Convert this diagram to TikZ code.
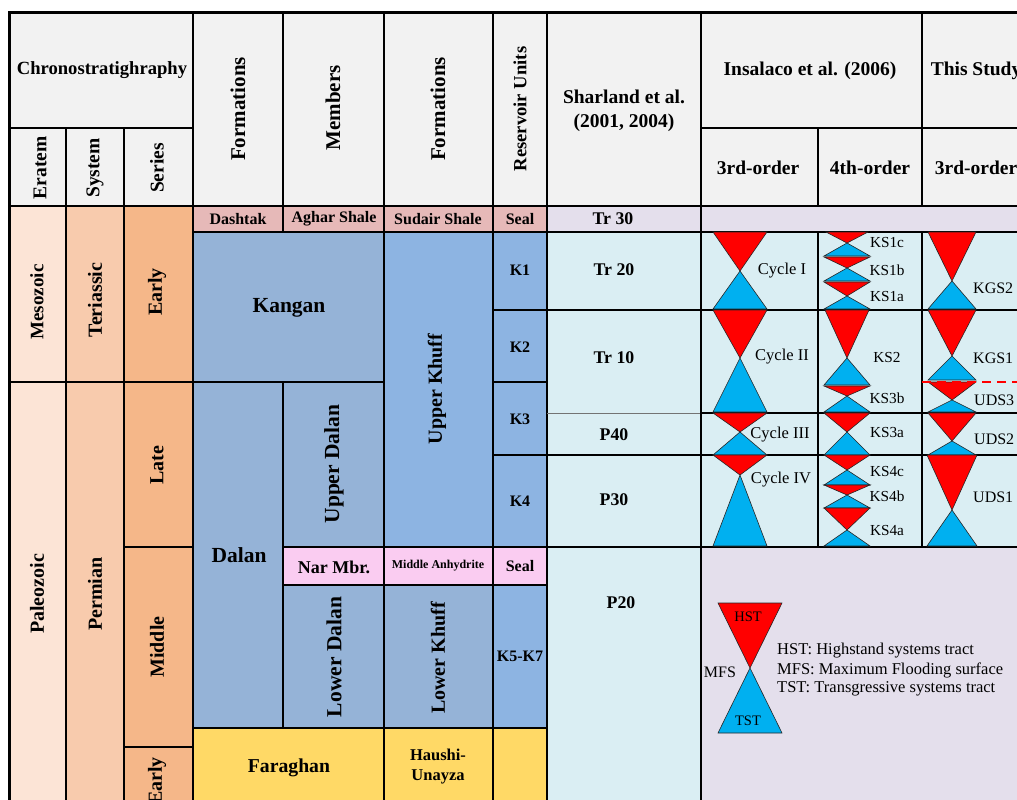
\documentclass[tikz,border=0pt]{standalone}
\usepackage{fontspec}
\setmainfont{Liberation Serif}
\definecolor{hdrbg}{HTML}{F2F2F2}
\definecolor{era}{HTML}{FCE4D6}
\definecolor{sys}{HTML}{F8CBAD}
\definecolor{ser}{HTML}{F5B789}
\definecolor{sealc}{HTML}{E6B9B8}
\definecolor{kang}{HTML}{95B3D7}
\definecolor{khuff}{HTML}{8DB4E2}
\definecolor{nar}{HTML}{FACCF1}
\definecolor{yel}{HTML}{FFD966}
\definecolor{lblue}{HTML}{DAEEF3}
\definecolor{lpurp}{HTML}{E4DFEC}
\definecolor{tred}{HTML}{FF0000}
\definecolor{tblue}{HTML}{00B0F0}
\newcommand{\fsz}[1]{\fontsize{#1}{#1}\selectfont}
\tikzset{
  cell/.style={draw=black, line width=1.2pt},
  tx/.style={inner sep=0pt, align=center},
  hdr/.style={tx, font=\fsz{19.5}\bfseries},
  chr/.style={tx, font=\fsz{20}\bfseries, rotate=90},
  sm/.style={tx, font=\fsz{16}\bfseries},
  shl/.style={tx, font=\fsz{17.8}\bfseries},
  big/.style={tx, font=\fsz{21.5}\bfseries},
  cyc/.style={tx, font=\fsz{16.5}},
  ksl/.style={tx, font=\fsz{15.3}},
  kgl/.style={tx, font=\fsz{16}, anchor=west},
  leg/.style={tx, font=\fsz{16.5}, anchor=west},
  trired/.style={fill=tred, draw=black!85, line width=0.6pt},
  triblue/.style={fill=tblue, draw=black!85, line width=0.6pt},
}
% red down triangle: cx, halfwidth, top y, apex y
\newcommand{\rdn}[4]{\path[trired] (#1-#2,#3) -- (#1+#2,#3) -- (#1,#4) -- cycle;}
% blue up triangle: cx, halfwidth, apex y, base y
\newcommand{\bup}[4]{\path[triblue] (#1,#3) -- (#1+#2,#4) -- (#1-#2,#4) -- cycle;}
\begin{document}
\begin{tikzpicture}[x=1pt,y=-1pt]
\useasboundingbox (0,0) rectangle (1017,800);
\clip (0,0) rectangle (1017,800);
\fill[white] (0,0) rectangle (1017,800);
% ---------- header cells ----------
\foreach \a/\b/\c/\d in {9/13/193/128, 9/128/66/206, 66/128/124/206, 124/128/193/206,
  193/13/283/206, 283/13/384/206, 384/13/493/206, 493/13/547/206, 547/13/701/206,
  701/13/922/128, 701/128/818/206, 818/128/922/206, 922/13/1030/128, 922/128/1030/206}
  \path[cell, fill=hdrbg] (\a,\b) rectangle (\c,\d);
% ---------- chronostratigraphy ----------
\path[cell, fill=era] (9,206) rectangle (66,382);
\path[cell, fill=era] (9,382) rectangle (66,810);
\path[cell, fill=sys] (66,206) rectangle (124,382);
\path[cell, fill=sys] (66,382) rectangle (124,810);
\path[cell, fill=ser] (124,206) rectangle (193,382);
\path[cell, fill=ser] (124,382) rectangle (193,547);
\path[cell, fill=ser] (124,547) rectangle (193,747);
\path[cell, fill=ser] (124,747) rectangle (193,810);
% ---------- top seal row ----------
\path[cell, fill=sealc] (193,206) rectangle (283,232);
\path[cell, fill=sealc] (283,206) rectangle (384,232);
\path[cell, fill=sealc] (384,206) rectangle (493,232);
\path[cell, fill=sealc] (493,206) rectangle (547,232);
\path[cell, fill=lpurp] (547,206) rectangle (701,232);
\path[cell, fill=lpurp] (701,206) rectangle (1030,232);
% ---------- formations ----------
\path[cell, fill=kang] (193,232) rectangle (384,382);
\path[cell, fill=khuff] (384,232) rectangle (493,547);
\path[cell, fill=khuff] (493,232) rectangle (547,310);
\path[cell, fill=khuff] (493,310) rectangle (547,382);
\path[cell, fill=khuff] (493,382) rectangle (547,455);
\path[cell, fill=khuff] (493,455) rectangle (547,547);
\path[cell, fill=kang] (193,382) rectangle (283,728);
\path[cell, fill=kang] (283,382) rectangle (384,547);
\path[cell, fill=nar] (283,547) rectangle (384,585);
\path[cell, fill=nar] (384,547) rectangle (493,585);
\path[cell, fill=nar] (493,547) rectangle (547,585);
\path[cell, fill=kang] (283,585) rectangle (384,728);
\path[cell, fill=kang] (384,585) rectangle (493,728);
\path[cell, fill=khuff] (493,585) rectangle (547,728);
\path[cell, fill=yel] (193,728) rectangle (384,810);
\path[cell, fill=yel] (384,728) rectangle (493,810);
\path[cell, fill=yel] (493,728) rectangle (547,810);
% ---------- Sharland ----------
\path[cell, fill=lblue] (547,232) rectangle (701,310);
\path[cell, fill=lblue] (547,310) rectangle (701,455);
\draw[black!55, line width=0.7pt] (547,413) -- (701,413);
\path[cell, fill=lblue] (547,455) rectangle (701,547);
\path[cell, fill=lblue] (547,547) rectangle (701,810);
% ---------- sequence cells ----------
\foreach \a/\c in {701/818, 818/922, 922/1030}
  \foreach \b/\d in {232/310, 310/413, 413/455, 455/547}
    \path[cell, fill=lblue] (\a,\b) rectangle (\c,\d);
\path[cell, fill=lpurp] (701,547) rectangle (1030,810);
% ---------- outer frame ----------
\draw[line width=3pt] (9,810) -- (9,13) -- (1030,13);
\draw[line width=2.6pt] (9,206) -- (1030,206);
% ---------- triangles: Insalaco 3rd-order ----------
\rdn{740}{27}{232}{271} \bup{740}{27}{271}{309}
\rdn{740}{27}{310}{358} \bup{740}{27}{358}{412}
\rdn{740}{27}{413}{432} \bup{740}{27}{432}{455}
\rdn{740}{27}{455}{475} \bup{740}{27}{475}{546}
% ---------- triangles: Insalaco 4th-order ----------
\rdn{847}{21}{232}{243} \bup{847}{23}{243}{256}
\rdn{847}{23}{257}{268} \bup{847}{23}{268}{281}
\rdn{847}{23}{282}{296} \bup{847}{23}{296}{309}
\rdn{847}{22}{310}{358} \bup{847}{23}{358}{385}
\rdn{847}{23}{386}{396} \bup{847}{23}{396}{412}
\rdn{847}{23}{413}{432} \bup{847}{23}{432}{455}
\rdn{847}{23}{455}{470} \bup{847}{23}{470}{485}
\rdn{847}{23}{485}{495} \bup{847}{23}{495}{508}
\rdn{847}{23}{508}{530} \bup{847}{23}{530}{546}
% ---------- triangles: This study ----------
\rdn{952}{24}{232}{281} \bup{952}{24}{281}{309}
\rdn{952}{24}{310}{356} \bup{952}{24}{356}{380}
\rdn{952}{24}{382}{400} \bup{952}{24}{400}{412}
\rdn{952}{24}{413}{441} \bup{952}{24}{441}{455}
\rdn{952}{25}{455}{510} \bup{952}{25}{510}{546}
\draw[tred, line width=2.6pt, dash pattern=on 9pt off 6pt] (922,382) -- (1030,382);
% ---------- legend ----------
\rdn{750}{32}{603}{668} \bup{750}{32}{668}{733}
% ---------- header text ----------
\node[hdr, font=\fsz{18.6}\bfseries] (tchrono) at (102,70) {Chronostratighraphy};
\node[hdr, rotate=90] (tera) at (40,168) {Eratem};
\node[hdr, rotate=90] (tsys) at (95,168) {System};
\node[hdr, rotate=90] (tser) at (157,168) {Series};
\node[hdr, font=\fsz{21}\bfseries, rotate=90] (tform1) at (238,109) {Formations};
\node[hdr, font=\fsz{21}\bfseries, rotate=90] (tmem) at (333,108) {Members};
\node[hdr, font=\fsz{21}\bfseries, rotate=90] (tform2) at (438,109) {Formations};
\node[hdr, font=\fsz{18.6}\bfseries, rotate=90] (tres) at (520,109) {Reservoir Units};
\node[hdr] (tshar1) at (624,97) {Sharland et al.};
\node[hdr] (tshar2) at (624,123) {(2001, 2004)};
\node[hdr] (tins) at (810,71) {Insalaco et al. (2006)};
\node[hdr] (tthis) at (976,71) {This Study};
\node[hdr] (t3rd) at (758,168) {3rd-order};
\node[hdr] (t4th) at (870,168) {4th-order};
\node[hdr] (t3rdb) at (976,168) {3rd-order};
% ---------- chrono text ----------
\node[chr, font=\fsz{19}\bfseries] (tmeso) at (37,302) {Mesozoic};
\node[chr] (tpaleo) at (37,594) {Paleozoic};
\node[chr] (ttri) at (95,300) {Teriassic};
\node[chr] (tperm) at (95,594) {Permian};
\node[chr] (tearly1) at (157,292) {Early};
\node[chr] (tlate) at (157,465) {Late};
\node[chr] (tmid) at (157,647) {Middle};
\node[chr] (tearly2) at (157,781) {Early};
% ---------- formation text ----------
\node[sm] (tdash) at (238,219) {Dashtak};
\node[sm] (tagh) at (334,219) {Aghar Shale};
\node[sm] (tsud) at (438,219) {Sudair Shale};
\node[sm] (tseal1) at (520,219) {Seal};
\node[big] (tkang) at (289,308) {Kangan};
\node[big, font=\fsz{20}\bfseries, rotate=90] (tukh) at (437,389) {Upper Khuff};
\node[big] (tdalan) at (239,555) {Dalan};
\node[big, rotate=90] (tudal) at (334,464) {Upper Dalan};
\node[sm] (tk1) at (520,270) {K1};
\node[sm] (tk2) at (520,347) {K2};
\node[sm] (tk3) at (520,419) {K3};
\node[sm] (tk4) at (520,501) {K4};
\node[tx, font=\fsz{18}\bfseries] (tnar) at (334,567) {Nar Mbr.};
\node[tx, font=\fsz{12}\bfseries] (tmanh) at (438,566) {Middle Anhydrite};
\node[sm] (tseal2) at (520,566) {Seal};
\node[big, rotate=90] (tldal) at (334,657) {Lower Dalan};
\node[big, font=\fsz{20}\bfseries, rotate=90] (tlkh) at (438,658) {Lower Khuff};
\node[sm] (tk57) at (520,656) {K5-K7};
\node[tx, font=\fsz{19.7}\bfseries] (tfar) at (289,768) {Faraghan};
\node[tx, font=\fontsize{16.5}{20}\selectfont\bfseries] (thau) at (438,767) {Haushi-\\Unayza};
% ---------- Sharland text ----------
\node[shl] (ttr30) at (613,219) {Tr 30};
\node[shl] (ttr20) at (614,270) {Tr 20};
\node[shl] (ttr10) at (614,358) {Tr 10};
\node[shl] (tp40) at (614,435) {P40};
\node[shl] (tp30) at (614,500) {P30};
\node[shl] (tp20) at (621,603) {P20};
% ---------- sequence labels ----------
\node[cyc] (tc1) at (782,271) {Cycle I};
\node[cyc] (tc2) at (782,357) {Cycle II};
\node[cyc] (tc3) at (780,435) {Cycle III};
\node[cyc] (tc4) at (781,480) {Cycle IV};
\node[ksl] (tks1c) at (887,243) {KS1c};
\node[ksl] (tks1b) at (887,270) {KS1b};
\node[ksl] (tks1a) at (887,297) {KS1a};
\node[ksl] (tks2) at (887,358) {KS2};
\node[ksl] (tks3b) at (887,398) {KS3b};
\node[ksl] (tks3a) at (887,433) {KS3a};
\node[ksl] (tks4c) at (887,472) {KS4c};
\node[ksl] (tks4b) at (887,496) {KS4b};
\node[ksl] (tks4a) at (887,531) {KS4a};
\node[kgl] (tkgs2) at (973,288) {KGS2};
\node[kgl] (tkgs1) at (973,358) {KGS1};
\node[kgl] (tuds3) at (974,400) {UDS3};
\node[kgl] (tuds2) at (974,439) {UDS2};
\node[kgl] (tuds1) at (973,497) {UDS1};
% ---------- legend text ----------
\node[tx, font=\fsz{14.5}] (thst) at (748,617) {HST};
\node[tx, font=\fsz{14.5}] (ttst) at (748,721) {TST};
\node[tx, font=\fsz{16}] (tmfs) at (720,672) {MFS};
\node[leg] (tl1) at (777,651) {HST: Highstand systems tract};
\node[leg] (tl2) at (777,670) {MFS: Maximum Flooding surface};
\node[leg] (tl3) at (777,689) {TST: Transgressive systems tract};
\end{tikzpicture}
\end{document}
